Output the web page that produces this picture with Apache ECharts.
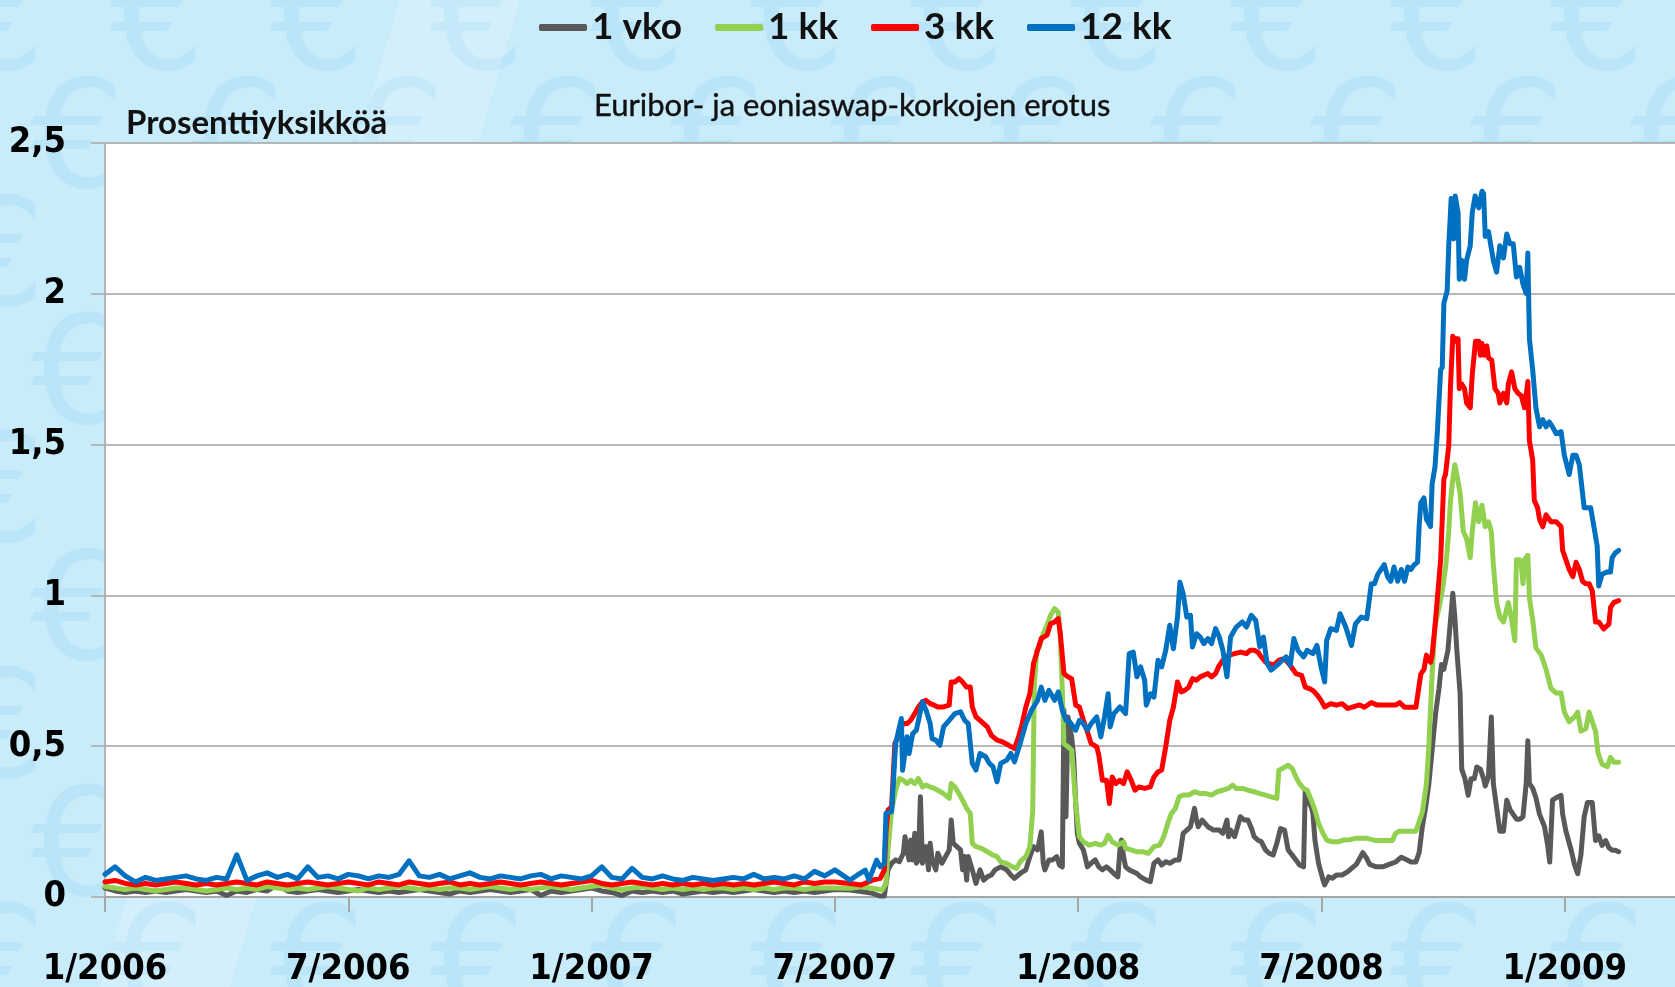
<!DOCTYPE html>
<html>
<head>
<meta charset="utf-8">
<title>Euribor- ja eoniaswap-korkojen erotus</title>
<script src="https://cdn.jsdelivr.net/npm/echarts/dist/echarts.min.js"></script>
<style>
    html, body { margin: 0; padding: 0; background: #c9ecfb; }
    #main { width: 1675px; height: 987px; }
</style>
</head>
<body>
<div id="main"></div>
<script>
// x = months since 1/2006, y = percentage points
const calmMonths = [
    0, 0.25, 0.5, 0.75, 1, 1.25, 1.5, 1.75, 2, 2.25,
    2.5, 2.75, 3, 3.25, 3.5, 3.75, 4, 4.25, 4.5, 4.75,
    5, 5.25, 5.5, 5.75, 6, 6.25, 6.5, 6.75, 7, 7.25,
    7.5, 7.75, 8, 8.25, 8.5, 8.75, 9, 9.25, 9.5, 9.75,
    10, 10.25, 10.5, 10.75, 11, 11.25, 11.5, 11.75, 12, 12.25,
    12.5, 12.75, 13, 13.25, 13.5, 13.75, 14, 14.25, 14.5, 14.75,
    15, 15.25, 15.5, 15.75, 16, 16.25, 16.5, 16.75, 17, 17.25,
    17.5, 17.75, 18
];

const vkoCalm = [
    0.03, 0.02, 0.015, 0.02, 0.015, 0.02, 0.015, 0.02, 0.025, 0.02,
    0.015, 0.02, 0.005, 0.02, 0.015, 0.025, 0.02, 0.04, 0.02, 0.015,
    0.02, 0.025, 0.02, 0.015, 0.02, 0.025, 0.02, 0.015, 0.02, 0.015,
    0.02, 0.025, 0.02, 0.015, 0.01, 0.02, 0.015, 0.02, 0.025, 0.02,
    0.015, 0.02, 0.025, 0.005, 0.02, 0.015, 0.02, 0.025, 0.03, 0.02,
    0.015, 0.005, 0.02, 0.015, 0.02, 0.015, 0.02, 0.01, 0.015, 0.02,
    0.015, 0.02, 0.015, 0.02, 0.025, 0.02, 0.015, 0.02, 0.015, 0.02,
    0.015, 0.02, 0.025
];
const kk1Calm = [
    0.035, 0.03, 0.025, 0.03, 0.025, 0.02, 0.025, 0.03, 0.03, 0.025,
    0.02, 0.025, 0.03, 0.025, 0.03, 0.025, 0.035, 0.03, 0.025, 0.03,
    0.025, 0.03, 0.035, 0.03, 0.025, 0.02, 0.03, 0.025, 0.03, 0.035,
    0.03, 0.025, 0.03, 0.025, 0.03, 0.03, 0.025, 0.03, 0.035, 0.03,
    0.025, 0.03, 0.025, 0.03, 0.035, 0.03, 0.025, 0.03, 0.035, 0.04,
    0.03, 0.025, 0.03, 0.035, 0.03, 0.025, 0.03, 0.025, 0.03, 0.025,
    0.03, 0.03, 0.025, 0.03, 0.025, 0.03, 0.025, 0.03, 0.03, 0.025,
    0.03, 0.03, 0.03
];
const kk3Calm = [
    0.05, 0.055, 0.045, 0.04, 0.045, 0.04, 0.045, 0.05, 0.045, 0.04,
    0.045, 0.04, 0.045, 0.05, 0.045, 0.04, 0.05, 0.045, 0.04, 0.045,
    0.05, 0.045, 0.04, 0.045, 0.05, 0.045, 0.04, 0.05, 0.045, 0.04,
    0.05, 0.045, 0.04, 0.045, 0.05, 0.04, 0.045, 0.04, 0.045, 0.05,
    0.045, 0.04, 0.045, 0.05, 0.045, 0.04, 0.045, 0.05, 0.055, 0.045,
    0.04, 0.045, 0.05, 0.045, 0.04, 0.045, 0.04, 0.045, 0.04, 0.045,
    0.04, 0.045, 0.04, 0.045, 0.04, 0.045, 0.05, 0.045, 0.04, 0.05,
    0.045, 0.05, 0.05
];
const kk12Calm = [
    0.075, 0.1, 0.07, 0.05, 0.065, 0.055, 0.06, 0.065, 0.07, 0.06,
    0.055, 0.065, 0.06, 0.14, 0.055, 0.07, 0.08, 0.065, 0.075, 0.06,
    0.1, 0.065, 0.07, 0.06, 0.075, 0.07, 0.06, 0.07, 0.065, 0.075,
    0.12, 0.07, 0.065, 0.075, 0.06, 0.07, 0.08, 0.065, 0.06, 0.07,
    0.065, 0.06, 0.07, 0.075, 0.06, 0.07, 0.065, 0.06, 0.07, 0.1,
    0.065, 0.06, 0.095, 0.065, 0.06, 0.07, 0.06, 0.055, 0.065, 0.06,
    0.055, 0.06, 0.065, 0.06, 0.075, 0.06, 0.065, 0.06, 0.07, 0.06,
    0.085, 0.07, 0.09
];

// [month, value] from August 2007 onwards
const vkoLater = [
    [18.37, 0.023], [18.65, 0.018], [18.93, 0.012], [19.12, 0.003], [19.22, 0.003], [19.31, 0.09], [19.4, 0.112],
    [19.5, 0.123], [19.59, 0.117], [19.69, 0.145], [19.73, 0.2], [19.78, 0.156], [19.83, 0.123], [19.87, 0.189],
    [19.92, 0.123], [19.97, 0.211], [20.01, 0.112], [20.06, 0.123], [20.11, 0.332], [20.16, 0.112], [20.2, 0.134],
    [20.25, 0.167], [20.31, 0.09], [20.35, 0.178], [20.4, 0.123], [20.49, 0.09], [20.54, 0.145], [20.64, 0.112],
    [20.73, 0.134], [20.82, 0.156], [20.87, 0.255], [20.92, 0.178], [21.01, 0.167], [21.1, 0.156], [21.15, 0.09],
    [21.2, 0.134], [21.25, 0.056], [21.29, 0.134], [21.39, 0.09], [21.48, 0.045], [21.58, 0.09], [21.67, 0.056],
    [21.76, 0.067], [21.86, 0.073], [21.95, 0.09], [22.09, 0.1], [22.24, 0.09], [22.34, 0.073], [22.43, 0.062],
    [22.57, 0.078], [22.71, 0.09], [22.81, 0.134], [22.9, 0.167], [23.0, 0.156], [23.09, 0.216], [23.14, 0.112],
    [23.18, 0.09], [23.28, 0.123], [23.37, 0.123], [23.47, 0.134], [23.54, 0.106], [23.61, 0.1], [23.65, 0.62],
    [23.7, 0.266], [23.75, 0.597], [23.79, 0.564], [23.84, 0.531], [23.89, 0.465], [23.94, 0.31], [23.98, 0.211],
    [24.03, 0.178], [24.13, 0.156], [24.23, 0.1], [24.32, 0.112], [24.42, 0.123], [24.51, 0.1], [24.6, 0.09],
    [24.7, 0.1], [24.79, 0.09], [24.88, 0.078], [24.98, 0.067], [25.03, 0.156], [25.07, 0.189], [25.12, 0.134],
    [25.17, 0.1], [25.26, 0.09], [25.36, 0.084], [25.45, 0.078], [25.54, 0.067], [25.68, 0.056], [25.78, 0.051],
    [25.87, 0.112], [25.97, 0.123], [26.06, 0.106], [26.16, 0.117], [26.26, 0.112], [26.4, 0.123], [26.49, 0.123],
    [26.59, 0.211], [26.68, 0.222], [26.77, 0.233], [26.87, 0.294], [26.92, 0.255], [26.96, 0.233], [27.06, 0.255],
    [27.2, 0.233], [27.34, 0.222], [27.48, 0.222], [27.57, 0.211], [27.67, 0.255], [27.71, 0.2], [27.76, 0.222],
    [27.86, 0.2], [28.0, 0.266], [28.1, 0.255], [28.19, 0.255], [28.29, 0.222], [28.34, 0.2], [28.43, 0.189],
    [28.52, 0.183], [28.62, 0.156], [28.71, 0.145], [28.81, 0.139], [28.9, 0.178], [28.99, 0.227], [29.09, 0.222],
    [29.18, 0.156], [29.28, 0.139], [29.37, 0.123], [29.46, 0.106], [29.56, 0.1], [29.6, 0.354], [29.65, 0.321],
    [29.7, 0.31], [29.75, 0.299], [29.79, 0.277], [29.84, 0.189], [29.93, 0.111], [30.04, 0.056], [30.08, 0.04],
    [30.18, 0.067], [30.27, 0.062], [30.37, 0.073], [30.51, 0.073], [30.65, 0.084], [30.86, 0.108], [31.02, 0.147],
    [31.1, 0.132], [31.19, 0.108], [31.35, 0.1], [31.51, 0.1], [31.67, 0.108], [31.83, 0.116], [31.97, 0.132],
    [32.09, 0.124], [32.21, 0.116], [32.33, 0.116], [32.41, 0.147], [32.49, 0.234], [32.57, 0.297], [32.65, 0.376],
    [32.73, 0.487], [32.82, 0.613], [32.9, 0.692], [32.96, 0.771], [33.02, 0.755], [33.06, 0.755], [33.12, 0.818],
    [33.18, 0.912], [33.24, 1.007], [33.29, 0.928], [33.34, 0.818], [33.42, 0.676], [33.46, 0.424], [33.54, 0.392],
    [33.62, 0.337], [33.69, 0.392], [33.77, 0.392], [33.83, 0.431], [33.92, 0.424], [34.0, 0.392], [34.04, 0.368],
    [34.12, 0.4], [34.19, 0.597], [34.24, 0.376], [34.32, 0.297], [34.4, 0.218], [34.49, 0.218], [34.57, 0.321],
    [34.65, 0.29], [34.73, 0.274], [34.81, 0.258], [34.89, 0.258], [34.97, 0.266], [35.05, 0.376], [35.09, 0.518],
    [35.13, 0.376], [35.21, 0.361], [35.29, 0.329], [35.38, 0.274], [35.5, 0.234], [35.58, 0.171], [35.63, 0.116],
    [35.7, 0.321], [35.79, 0.329], [35.91, 0.337], [35.95, 0.274], [36.03, 0.218], [36.16, 0.155], [36.24, 0.108],
    [36.32, 0.077], [36.4, 0.14], [36.48, 0.266], [36.56, 0.313], [36.68, 0.313], [36.76, 0.187], [36.84, 0.203],
    [36.92, 0.171], [37.01, 0.187], [37.09, 0.163], [37.17, 0.155], [37.25, 0.155], [37.33, 0.15]
];
const kk1Later = [
    [18.37, 0.029], [18.65, 0.034], [18.93, 0.029], [19.17, 0.023], [19.26, 0.045], [19.31, 0.156], [19.4, 0.288],
    [19.5, 0.354], [19.59, 0.393], [19.69, 0.387], [19.78, 0.376], [19.87, 0.387], [19.97, 0.376], [20.06, 0.393],
    [20.16, 0.365], [20.25, 0.371], [20.35, 0.365], [20.45, 0.36], [20.54, 0.354], [20.68, 0.343], [20.82, 0.327],
    [20.87, 0.376], [20.96, 0.365], [21.06, 0.343], [21.15, 0.321], [21.25, 0.294], [21.34, 0.277], [21.39, 0.178],
    [21.48, 0.167], [21.62, 0.161], [21.76, 0.15], [21.9, 0.139], [22.0, 0.134], [22.09, 0.117], [22.24, 0.111],
    [22.38, 0.1], [22.48, 0.095], [22.57, 0.117], [22.71, 0.134], [22.81, 0.167], [22.88, 0.288], [22.92, 0.707],
    [22.98, 0.818], [23.04, 0.829], [23.14, 0.873], [23.23, 0.901], [23.32, 0.934], [23.42, 0.956], [23.51, 0.945],
    [23.56, 0.862], [23.61, 0.685], [23.65, 0.509], [23.75, 0.498], [23.84, 0.487], [23.94, 0.31], [24.03, 0.2],
    [24.13, 0.183], [24.27, 0.172], [24.42, 0.178], [24.56, 0.172], [24.65, 0.178], [24.74, 0.205], [24.84, 0.183],
    [24.98, 0.172], [25.12, 0.183], [25.17, 0.161], [25.31, 0.156], [25.45, 0.15], [25.59, 0.15], [25.73, 0.145],
    [25.87, 0.167], [26.01, 0.172], [26.11, 0.2], [26.21, 0.244], [26.3, 0.277], [26.4, 0.294], [26.49, 0.332],
    [26.59, 0.338], [26.73, 0.338], [26.87, 0.349], [27.01, 0.343], [27.15, 0.343], [27.29, 0.338], [27.43, 0.349],
    [27.57, 0.354], [27.71, 0.36], [27.81, 0.371], [27.9, 0.36], [28.05, 0.36], [28.19, 0.354], [28.34, 0.349],
    [28.48, 0.343], [28.62, 0.338], [28.76, 0.332], [28.9, 0.327], [28.95, 0.42], [29.04, 0.426], [29.18, 0.437],
    [29.28, 0.426], [29.37, 0.398], [29.46, 0.376], [29.56, 0.36], [29.65, 0.354], [29.75, 0.321], [29.84, 0.288],
    [29.93, 0.244], [30.04, 0.211], [30.13, 0.189], [30.27, 0.183], [30.41, 0.183], [30.55, 0.189], [30.7, 0.19],
    [30.86, 0.195], [31.1, 0.195], [31.35, 0.187], [31.51, 0.187], [31.75, 0.187], [31.83, 0.211], [31.92, 0.218],
    [32.13, 0.218], [32.33, 0.218], [32.41, 0.25], [32.49, 0.282], [32.59, 0.376], [32.65, 0.502], [32.73, 0.739],
    [32.8, 0.897], [32.9, 0.96], [32.99, 1.023], [33.07, 1.102], [33.14, 1.212], [33.18, 1.307], [33.24, 1.386],
    [33.29, 1.433], [33.34, 1.401], [33.42, 1.338], [33.5, 1.212], [33.58, 1.188], [33.67, 1.125], [33.72, 1.212],
    [33.8, 1.307], [33.88, 1.244], [33.96, 1.299], [34.04, 1.228], [34.12, 1.244], [34.19, 1.212], [34.24, 1.102],
    [34.32, 0.976], [34.4, 0.928], [34.49, 0.912], [34.61, 0.976], [34.69, 0.92], [34.77, 0.85], [34.81, 1.118],
    [34.89, 1.118], [34.93, 1.102], [34.97, 1.039], [35.01, 1.118], [35.09, 1.133], [35.13, 0.991], [35.21, 0.92],
    [35.29, 0.826], [35.42, 0.802], [35.54, 0.755], [35.66, 0.692], [35.79, 0.676], [35.91, 0.676], [35.99, 0.613],
    [36.11, 0.581], [36.24, 0.597], [36.32, 0.613], [36.4, 0.55], [36.52, 0.558], [36.6, 0.613], [36.68, 0.581],
    [36.76, 0.55], [36.82, 0.479], [36.92, 0.44], [37.05, 0.432], [37.13, 0.463], [37.21, 0.447], [37.33, 0.447]
];
const kk3Later = [
    [18.37, 0.045], [18.65, 0.04], [18.93, 0.056], [19.12, 0.062], [19.22, 0.09], [19.26, 0.211], [19.31, 0.288],
    [19.4, 0.299], [19.48, 0.509], [19.54, 0.525], [19.64, 0.564], [19.69, 0.575], [19.78, 0.575], [19.87, 0.586],
    [19.97, 0.608], [20.06, 0.63], [20.16, 0.647], [20.25, 0.652], [20.35, 0.641], [20.45, 0.636], [20.54, 0.63],
    [20.68, 0.63], [20.82, 0.636], [20.87, 0.713], [20.96, 0.713], [21.06, 0.724], [21.15, 0.713], [21.25, 0.696],
    [21.34, 0.696], [21.39, 0.63], [21.48, 0.597], [21.62, 0.581], [21.76, 0.564], [21.86, 0.536], [22.0, 0.52],
    [22.14, 0.514], [22.29, 0.503], [22.43, 0.492], [22.53, 0.531], [22.62, 0.575], [22.71, 0.63], [22.81, 0.674],
    [22.9, 0.774], [23.0, 0.818], [23.09, 0.857], [23.23, 0.868], [23.32, 0.906], [23.42, 0.912], [23.51, 0.923],
    [23.56, 0.873], [23.65, 0.741], [23.75, 0.73], [23.84, 0.724], [23.94, 0.636], [24.03, 0.63], [24.13, 0.586],
    [24.23, 0.547], [24.32, 0.509], [24.46, 0.498], [24.51, 0.47], [24.6, 0.387], [24.7, 0.387], [24.77, 0.31],
    [24.84, 0.398], [24.93, 0.376], [25.03, 0.387], [25.12, 0.376], [25.21, 0.415], [25.31, 0.387], [25.4, 0.354],
    [25.5, 0.365], [25.64, 0.36], [25.78, 0.365], [25.87, 0.398], [25.97, 0.415], [26.06, 0.421], [26.16, 0.498],
    [26.26, 0.586], [26.35, 0.63], [26.45, 0.713], [26.54, 0.68], [26.63, 0.685], [26.73, 0.696], [26.82, 0.724],
    [26.92, 0.719], [27.01, 0.73], [27.1, 0.735], [27.2, 0.741], [27.29, 0.73], [27.39, 0.741], [27.48, 0.768],
    [27.57, 0.785], [27.71, 0.801], [27.86, 0.807], [28.01, 0.812], [28.15, 0.807], [28.24, 0.818], [28.34, 0.818],
    [28.43, 0.812], [28.52, 0.796], [28.62, 0.779], [28.71, 0.774], [28.81, 0.768], [28.95, 0.785], [29.09, 0.79],
    [29.23, 0.768], [29.37, 0.741], [29.51, 0.735], [29.6, 0.696], [29.7, 0.691], [29.79, 0.685], [29.9, 0.669],
    [29.99, 0.652], [30.08, 0.63], [30.23, 0.641], [30.37, 0.636], [30.51, 0.641], [30.65, 0.625], [30.74, 0.629],
    [30.94, 0.637], [31.06, 0.629], [31.23, 0.645], [31.36, 0.637], [31.6, 0.637], [31.84, 0.637], [31.93, 0.645],
    [32.05, 0.629], [32.17, 0.629], [32.33, 0.629], [32.45, 0.739], [32.53, 0.755], [32.59, 0.802], [32.69, 0.778],
    [32.73, 0.802], [32.8, 0.897], [32.86, 0.991], [32.94, 1.118], [33.02, 1.386], [33.06, 1.401], [33.14, 1.496],
    [33.18, 1.685], [33.24, 1.859], [33.29, 1.843], [33.32, 1.851], [33.37, 1.851], [33.4, 1.685], [33.46, 1.701],
    [33.53, 1.685], [33.58, 1.638], [33.67, 1.622], [33.72, 1.733], [33.8, 1.843], [33.88, 1.843], [33.92, 1.796],
    [33.96, 1.835], [34.02, 1.796], [34.08, 1.827], [34.12, 1.788], [34.2, 1.78], [34.28, 1.685], [34.36, 1.67],
    [34.4, 1.638], [34.49, 1.67], [34.57, 1.638], [34.61, 1.701], [34.69, 1.741], [34.77, 1.685], [34.85, 1.67],
    [34.93, 1.662], [35.01, 1.622], [35.09, 1.709], [35.13, 1.512], [35.21, 1.449], [35.25, 1.315], [35.33, 1.291],
    [35.38, 1.252], [35.46, 1.228], [35.54, 1.267], [35.66, 1.244], [35.79, 1.244], [35.91, 1.228], [35.95, 1.149],
    [36.03, 1.118], [36.11, 1.086], [36.2, 1.062], [36.28, 1.11], [36.36, 1.086], [36.44, 1.047], [36.52, 1.039],
    [36.6, 1.039], [36.68, 1.015], [36.76, 0.912], [36.84, 0.912], [36.96, 0.889], [37.09, 0.905], [37.13, 0.96],
    [37.21, 0.976], [37.33, 0.983]
];
const kk12Later = [
    [18.37, 0.056], [18.56, 0.073], [18.75, 0.089], [18.84, 0.056], [19.03, 0.122], [19.12, 0.1], [19.22, 0.11],
    [19.26, 0.277], [19.4, 0.283], [19.5, 0.509], [19.64, 0.592], [19.67, 0.42], [19.78, 0.531], [19.83, 0.476],
    [19.92, 0.542], [20.01, 0.553], [20.16, 0.647], [20.25, 0.619], [20.35, 0.575], [20.4, 0.525], [20.49, 0.52],
    [20.59, 0.503], [20.68, 0.564], [20.82, 0.586], [20.96, 0.608], [21.1, 0.614], [21.2, 0.586], [21.29, 0.575],
    [21.39, 0.443], [21.48, 0.421], [21.58, 0.476], [21.72, 0.465], [21.81, 0.443], [21.9, 0.432], [22.0, 0.382],
    [22.09, 0.443], [22.24, 0.454], [22.34, 0.476], [22.43, 0.448], [22.57, 0.509], [22.71, 0.575], [22.85, 0.619],
    [23.0, 0.652], [23.09, 0.696], [23.18, 0.652], [23.28, 0.685], [23.42, 0.652], [23.51, 0.68], [23.61, 0.619],
    [23.7, 0.586], [23.79, 0.581], [23.94, 0.553], [24.03, 0.586], [24.13, 0.575], [24.23, 0.553], [24.32, 0.575],
    [24.46, 0.597], [24.56, 0.531], [24.65, 0.597], [24.74, 0.674], [24.79, 0.564], [24.88, 0.608], [25.03, 0.63],
    [25.17, 0.608], [25.26, 0.807], [25.36, 0.812], [25.45, 0.73], [25.54, 0.763], [25.64, 0.719], [25.68, 0.636],
    [25.78, 0.674], [25.87, 0.663], [25.97, 0.785], [26.06, 0.763], [26.16, 0.818], [26.26, 0.901], [26.35, 0.823],
    [26.45, 0.928], [26.51, 1.044], [26.59, 1.005], [26.68, 0.928], [26.77, 0.934], [26.82, 0.829], [26.92, 0.873],
    [27.01, 0.862], [27.1, 0.84], [27.2, 0.857], [27.29, 0.84], [27.39, 0.89], [27.48, 0.862], [27.57, 0.818],
    [27.67, 0.73], [27.76, 0.862], [27.9, 0.895], [28.05, 0.912], [28.15, 0.895], [28.27, 0.934], [28.38, 0.917],
    [28.48, 0.829], [28.57, 0.862], [28.66, 0.774], [28.76, 0.752], [28.9, 0.768], [29.04, 0.785], [29.13, 0.796],
    [29.23, 0.768], [29.32, 0.857], [29.42, 0.818], [29.56, 0.796], [29.65, 0.818], [29.79, 0.807], [29.89, 0.834],
    [29.99, 0.763], [30.08, 0.713], [30.13, 0.851], [30.23, 0.89], [30.37, 0.884], [30.46, 0.939], [30.6, 0.895],
    [30.74, 0.834], [30.84, 0.906], [30.98, 0.928], [31.12, 0.923], [31.23, 1.039], [31.31, 1.039], [31.39, 1.07],
    [31.47, 1.086], [31.55, 1.102], [31.63, 1.062], [31.71, 1.047], [31.79, 1.094], [31.88, 1.047], [31.97, 1.086],
    [32.05, 1.047], [32.13, 1.094], [32.21, 1.086], [32.29, 1.102], [32.37, 1.11], [32.41, 1.228], [32.45, 1.307],
    [32.53, 1.323], [32.59, 1.252], [32.69, 1.228], [32.73, 1.37], [32.8, 1.425], [32.86, 1.543], [32.94, 1.748],
    [32.98, 1.756], [33.02, 1.969], [33.1, 2.009], [33.14, 2.159], [33.2, 2.316], [33.26, 2.182], [33.3, 2.324],
    [33.37, 2.269], [33.4, 2.048], [33.46, 2.111], [33.53, 2.048], [33.58, 2.111], [33.67, 2.159], [33.72, 2.269],
    [33.79, 2.324], [33.88, 2.285], [33.96, 2.34], [34.0, 2.332], [34.04, 2.19], [34.12, 2.206], [34.24, 2.111],
    [34.32, 2.072], [34.4, 2.159], [34.49, 2.119], [34.57, 2.198], [34.65, 2.166], [34.73, 2.166], [34.81, 2.056],
    [34.89, 2.088], [34.97, 2.032], [35.05, 2.001], [35.09, 2.135], [35.13, 1.851], [35.21, 1.748], [35.29, 1.622],
    [35.38, 1.559], [35.46, 1.583], [35.54, 1.559], [35.62, 1.575], [35.7, 1.559], [35.79, 1.536], [35.91, 1.543],
    [35.99, 1.465], [36.11, 1.401], [36.2, 1.465], [36.28, 1.465], [36.36, 1.433], [36.48, 1.291], [36.64, 1.291],
    [36.72, 1.228], [36.8, 1.165], [36.84, 1.031], [36.92, 1.07], [37.05, 1.078], [37.13, 1.078], [37.17, 1.125],
    [37.25, 1.141], [37.33, 1.149]
];

const seriesNames = ['1 vko', '1 kk', '3 kk', '12 kk'];
const seriesColors = ['#595959', '#92d050', '#ff0000', '#0070c0'];
const xTickLabels = ['1/2006', '7/2006', '1/2007', '7/2007', '1/2008', '7/2008', '1/2009'];

function joinData(calm, later) {
    return calmMonths.map((m, i) => [m, calm[i]]).concat(later);
}

const allData = [
    joinData(vkoCalm, vkoLater),
    joinData(kk1Calm, kk1Later),
    joinData(kk3Calm, kk3Later),
    joinData(kk12Calm, kk12Later)
];

// faint euro pattern in the background
const euroMarks = [];
for (let row = 0; row < 9; row++) {
    for (let col = 0; col < 12; col++) {
        euroMarks.push({
            type: 'text', silent: true, z: -10,
            x: col * 160 + (row % 2) * 80 - 50,
            y: row * 118 - 45,
            style: {text: '€', fontSize: 150, fontFamily: 'DejaVu Sans', fill: 'rgba(110,190,235,0.16)'}
        });
    }
}
euroMarks.push({
    type: 'polygon', silent: true, z: -9,
    shape: {points: [[400, 0], [520, 0], [230, 987], [100, 987]]},
    style: {fill: 'rgba(255,255,255,0.18)'}
});

const labelFont = 'DejaVu Sans Condensed, DejaVu Sans, sans-serif';

var myChart = echarts.init(document.getElementById('main'));
myChart.setOption({
    animation: false,
    backgroundColor: '#c9ecfb',
    graphic: euroMarks,
    title: {
        text: 'Euribor- ja eoniaswap-korkojen erotus',
        left: 594,
        top: 90,
        padding: 0,
        textStyle: {
            fontFamily: 'Lato', fontSize: 31, fontWeight: 'normal', color: '#111',
            textBorderColor: '#111', textBorderWidth: 0.4
        }
    },
    legend: {
        data: seriesNames,
        left: 539,
        top: 9,
        padding: 0,
        itemGap: 33,
        itemWidth: 48,
        itemHeight: 7,
        icon: 'roundRect',
        textStyle: {fontFamily: 'Lato', fontSize: 37, fontWeight: 'bold', color: '#111'}
    },
    grid: {
        left: 105,
        right: 0,
        top: 143,
        bottom: 90,
        containLabel: false,
        outerBoundsMode: 'none',
        show: true,
        backgroundColor: '#ffffff',
        borderWidth: 0
    },
    xAxis: {
        type: 'value',
        min: 0,
        max: 38.72,
        interval: 6,
        axisLine: {show: true, lineStyle: {color: '#a6a6a6', width: 2}},
        axisTick: {show: true, length: 15, lineStyle: {color: '#a6a6a6', width: 2}},
        splitLine: {show: false},
        axisLabel: {
            margin: 55,
            showMaxLabel: false,
            fontFamily: labelFont,
            fontWeight: 'bold',
            fontSize: 36,
            color: '#000',
            formatter: function (v) {
                return v % 6 === 0 ? xTickLabels[v / 6] : '';
            }
        }
    },
    yAxis: {
        type: 'value',
        min: 0,
        max: 2.5,
        interval: 0.5,
        name: 'Prosenttiyksikköä',
        nameLocation: 'end',
        nameGap: 1,
        nameTextStyle: {
            align: 'left', verticalAlign: 'bottom', lineHeight: 38,
            padding: [0, 0, 0, 21],
            fontFamily: 'Lato', fontSize: 33, fontWeight: 'bold', color: '#111'
        },
        axisLine: {show: true, lineStyle: {color: '#b4b4b4', width: 2}},
        axisTick: {show: true, length: 14, lineStyle: {color: '#a6a6a6', width: 1.5}},
        splitLine: {show: true, lineStyle: {color: '#a0a0a0', width: 1.5}},
        axisLabel: {
            margin: 39,
            fontFamily: labelFont,
            fontWeight: 'bold',
            fontSize: 36,
            color: '#000',
            formatter: function (v) {
                return String(v).replace('.', ',');
            }
        }
    },
    series: seriesNames.map(function (name, i) {
        return {
            name: name,
            type: 'line',
            data: allData[i],
            symbol: 'none',
            showSymbol: false,
            z: 2 + i,
            itemStyle: {color: seriesColors[i]},
            lineStyle: {color: seriesColors[i], width: 5, join: 'round', cap: 'round'}
        };
    })
});
</script>
</body>
</html>
